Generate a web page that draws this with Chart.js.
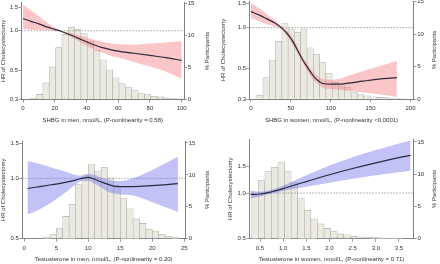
<!DOCTYPE html>
<html>
<head>
<meta charset="utf-8">
<script src="https://cdn.jsdelivr.net/npm/chart.js@4.4.1/dist/chart.umd.min.js"></script>
<style>
  body { margin: 0; background: #fff; width: 440px; height: 264px; overflow: hidden; position: relative; }
  canvas { position: absolute; }
</style>
</head>
<body>
<canvas id="c1" width="220" height="132" style="left:0;top:0"></canvas>
<canvas id="c2" width="220" height="132" style="left:220px;top:0"></canvas>
<canvas id="c3" width="220" height="132" style="left:0;top:132px"></canvas>
<canvas id="c4" width="220" height="132" style="left:220px;top:132px"></canvas>
<script>
// ---- data ----

// SHBG in men
var menShbgBins = [6.5,10.5,14.5,18.5,22.5,26.5,30.5,34.5,38.5,42.5,46.5,50.5,54.5,58.5,62.5,66.5,70.5,74.5,78.5,82.5,86.5,90.5,94.5,98.5];
var menShbgPct  = [0.15,0.8,2.6,5.1,8.1,10.2,11.3,11.0,10.3,9.1,7.7,6.2,4.6,3.4,2.5,1.85,1.4,1.0,0.75,0.5,0.4,0.25,0.15,0.1];
var menShbgX    = [0,5,10,15,20,23,30,35,40,45,50,55,60,70,80,90,100];
var menShbgHr   = [1.24,1.18,1.13,1.07,1.025,1.0,0.93,0.875,0.825,0.78,0.745,0.72,0.70,0.675,0.65,0.625,0.595];
var menShbgHi   = [1.58,1.43,1.29,1.16,1.06,1.01,0.965,0.925,0.89,0.855,0.825,0.805,0.79,0.785,0.80,0.815,0.835];
var menShbgLo   = [1.03,1.02,1.015,1.01,1.0,0.99,0.90,0.83,0.77,0.72,0.68,0.65,0.625,0.58,0.535,0.49,0.43];

// SHBG in women
var womenShbgBins = [11,18.9,26.8,34.7,42.6,50.5,58.4,66.3,74.2,82.1,90,97.9,105.8,113.7,121.6,129.5,137.4,145.3,153.2,161.1,169,176.9,184.8];
var womenShbgPct  = [0.6,3.3,6.0,8.9,11.7,10.8,10.3,10.8,7.9,6.9,5.6,3.9,2.6,2.0,1.8,1.0,0.7,0.5,0.35,0.25,0.2,0.15,0.1];
var womenShbgX    = [0,10,20,30,38,45,50,55,60,65,70,75,80,90,100,110,120,140,160,183];
var womenShbgHr   = [1.31,1.24,1.16,1.08,1.0,0.91,0.835,0.745,0.655,0.58,0.52,0.47,0.43,0.39,0.385,0.385,0.39,0.405,0.42,0.43];
var womenShbgHi   = [1.51,1.39,1.25,1.13,1.03,0.95,0.88,0.79,0.69,0.61,0.55,0.50,0.46,0.42,0.415,0.42,0.44,0.48,0.52,0.57];
var womenShbgLo   = [1.17,1.12,1.06,1.02,0.97,0.87,0.79,0.70,0.62,0.55,0.49,0.44,0.405,0.365,0.355,0.35,0.345,0.335,0.325,0.31];

// Testosterone in men
var menTBins = [2.5,3.5,4.5,5.5,6.5,7.5,8.5,9.5,10.5,11.5,12.5,13.5,14.5,15.5,16.5,17.5,18.5,19.5,20.5,21.5,22.5,23.5];
var menTPct  = [0.1,0.25,0.7,1.6,3.5,5.4,8.5,10.0,11.7,10.6,11.2,9.5,8.0,6.3,4.7,3.1,2.4,1.5,1.2,0.7,0.4,0.25];
var menTX    = [0.5,2,4,6,8,9,10,11,12,13,14,15,17,20,24];
var menTHr   = [0.89,0.905,0.926,0.95,0.98,1.0,1.01,0.99,0.96,0.935,0.915,0.91,0.91,0.92,0.94];
var menTHi   = [1.22,1.19,1.14,1.09,1.04,1.03,1.05,1.04,1.01,0.99,0.97,0.97,1.0,1.10,1.28];
var menTLo   = [0.66,0.69,0.75,0.83,0.93,0.97,0.97,0.94,0.90,0.86,0.84,0.83,0.82,0.76,0.68];

// Testosterone in women
var womenTBins = [0.391,0.533,0.675,0.817,0.959,1.101,1.243,1.385,1.527,1.669,1.811,1.953,2.095,2.237,2.379,2.521,2.663,2.805,2.947,3.089,3.231,3.373,3.515];
var womenTPct  = [6.7,9.0,10.4,11.1,11.9,10.4,8.7,6.3,4.4,3.1,2.3,1.6,1.1,0.75,0.6,0.4,0.3,0.25,0.2,0.15,0.1,0.1,0.05];
var womenTX    = [0.3,0.5,0.75,1.0,1.25,1.5,2.0,2.5,3.0,3.5,3.75];
var womenTHr   = [0.98,0.985,1.02,1.07,1.13,1.19,1.32,1.45,1.58,1.71,1.77];
var womenTHi   = [1.04,1.02,1.05,1.12,1.21,1.31,1.52,1.72,1.92,2.12,2.22];
var womenTLo   = [0.92,0.95,0.99,1.03,1.065,1.10,1.17,1.24,1.31,1.37,1.40];

// tick labels
var menShbgTicks   = [0,20,40,60,80,100];
var womenShbgTicks = [0,50,100,150,200];
var menTTicks      = [0,5,10,15,20,25];
var womenTTicks    = [0.5,1.0,1.5,2.0,2.5,3.0,3.5];
var hrTicksWide    = [0.3,0.5,1.0,1.5];
var hrTicksNarrow  = [0.5,1.0,1.5];
var pctTicks       = [0,5,10,15];

// ---- styling ----
var DARK = '#333333', AXIS = '#808080', CURVE = '#2a2a3c';
var PINK = 'rgba(246,120,125,0.42)', BLUE = 'rgba(110,110,235,0.42)';
var BAR_FILL = '#ebeae2', BAR_EDGE = '#aeada5';
var FONT = { family: '"Liberation Sans", Arial, sans-serif', size: 6 };

function pts(xs, ys) {
  return xs.map(function (x, i) { return { x: x, y: ys[i] }; });
}

// right-hand title, read bottom to top like the left one
var rightTitle = {
  id: 'rightTitle',
  afterDraw: function (chart, args, opts) {
    var a = chart.chartArea, ctx = chart.ctx;
    ctx.save();
    ctx.font = FONT.size + 'px ' + FONT.family;
    ctx.fillStyle = DARK;
    ctx.translate(opts.x, (a.top + a.bottom) / 2);
    ctx.rotate(-Math.PI / 2);
    ctx.textAlign = 'center';
    ctx.textBaseline = 'middle';
    ctx.fillText(opts.text, 0, 0);
    ctx.restore();
  }
};

function panel(p) {
  var W = 220, H = 132;
  var axisGrid = { drawOnChartArea: false, drawTicks: true, tickLength: 3, color: AXIS, lineWidth: 0.8, offset: false };
  var axisBorder = { display: true, color: AXIS, width: 1 };
  new Chart(document.getElementById(p.id), {
    type: 'bar',
    data: {
      datasets: [
        { type: 'line', data: pts(p.x, p.hr), yAxisID: 'y', borderColor: CURVE, borderWidth: 1.2,
          pointRadius: 0, cubicInterpolationMode: 'monotone', fill: false, order: 0 },
        { type: 'line', data: pts(p.x, p.hi), yAxisID: 'y', borderWidth: 0, pointRadius: 0,
          cubicInterpolationMode: 'monotone', fill: '+1', backgroundColor: p.band, order: 1 },
        { type: 'line', data: pts(p.x, p.lo), yAxisID: 'y', borderWidth: 0, pointRadius: 0,
          cubicInterpolationMode: 'monotone', fill: false, order: 1 },
        { type: 'line', data: [{ x: p.xMin, y: 1 }, { x: p.xMax, y: 1 }], yAxisID: 'y',
          borderColor: '#8a8a8a', borderWidth: 0.8, borderDash: [1.5, 1.5], pointRadius: 0, fill: false, order: 2 },
        { type: 'bar', data: pts(p.bins, p.pct), yAxisID: 'y2', backgroundColor: BAR_FILL,
          borderColor: BAR_EDGE, borderWidth: 0.6, barPercentage: 1, categoryPercentage: 1, order: 3 }
      ]
    },
    options: {
      responsive: false,
      animation: false,
      events: [],
      layout: { padding: { top: p.area.top, left: 0, right: 0, bottom: 0 } },
      plugins: {
        legend: { display: false },
        tooltip: { enabled: false },
        rightTitle: { x: p.rightX, text: '% Participants' }
      },
      scales: {
        x: {
          type: 'linear', min: p.xMin, max: p.xMax, offset: false,
          afterBuildTicks: function (s) { s.ticks = p.xTicks.map(function (v) { return { value: v }; }); },
          afterFit: function (s) { s.height = H - p.area.bottom; s.paddingLeft = 0; s.paddingRight = 0; },
          grid: axisGrid, border: axisBorder,
          ticks: { font: FONT, color: DARK, padding: p.xPad, maxRotation: 0, autoSkip: false,
                   callback: function (v) { return p.fmtX(v); } },
          title: { display: true, text: p.xTitle, font: FONT, color: DARK, padding: { top: 0, bottom: p.xTitlePad } }
        },
        y: {
          type: 'logarithmic', position: 'left', min: p.yMin, max: p.yMax,
          afterBuildTicks: function (s) { s.ticks = p.yTicks.map(function (v) { return { value: v }; }); },
          afterFit: function (s) { s.width = p.area.left; s.paddingTop = 0; s.paddingBottom = 0; },
          grid: axisGrid, border: axisBorder,
          ticks: { font: FONT, color: DARK, padding: 0.5, autoSkip: false,
                   callback: function (v) { return Number(v).toFixed(1); } },
          title: { display: true, text: 'HR of Cholecystectomy', font: FONT, color: DARK, padding: { top: p.yTitlePad, bottom: 0 } }
        },
        y2: {
          type: 'linear', position: 'right', min: 0, max: p.pMax,
          afterBuildTicks: function (s) { s.ticks = pctTicks.map(function (v) { return { value: v }; }); },
          afterFit: function (s) { s.width = W - p.area.right; s.paddingTop = 0; s.paddingBottom = 0; },
          grid: axisGrid, border: axisBorder,
          ticks: { font: FONT, color: DARK, padding: 0.7, autoSkip: false,
                   callback: function (v) { return String(v); } }
        }
      }
    },
    plugins: [rightTitle]
  });
}

panel({
  id: 'c1', area: { left: 21.5, right: 184, top: 2.5, bottom: 99.5 },
  xMin: -0.95, xMax: 101.45, yMin: 0.3, yMax: 1.642, pMax: 15.16,
  xTicks: menShbgTicks, yTicks: hrTicksWide, fmtX: function (v) { return String(v); },
  xPad: 2.2, xTitlePad: 8.4, yTitlePad: 0, rightX: 207, band: PINK,
  xTitle: 'SHBG in men, nmol/L, (P-nonlinearity = 0.58)',
  bins: menShbgBins, pct: menShbgPct, x: menShbgX, hr: menShbgHr, hi: menShbgHi, lo: menShbgLo
});

panel({
  id: 'c2', area: { left: 29.5, right: 193.5, top: 1, bottom: 99 },
  xMin: -1.88, xMax: 203.8, yMin: 0.3, yMax: 1.568, pMax: 15.1,
  xTicks: womenShbgTicks, yTicks: hrTicksWide, fmtX: function (v) { return String(v); },
  xPad: 2.7, xTitlePad: 8.4, yTitlePad: 0, rightX: 214, band: PINK,
  xTitle: 'SHBG in women, nmol/L, (P-nonlinearity <0.0001)',
  bins: womenShbgBins, pct: womenShbgPct, x: womenShbgX, hr: womenShbgHr, hi: womenShbgHi, lo: womenShbgLo
});

panel({
  id: 'c3', area: { left: 22.3, right: 185, top: 9, bottom: 106.7 },
  xMin: -0.31, xMax: 25.1, yMin: 0.5, yMax: 1.535, pMax: 15.31,
  xTicks: menTTicks, yTicks: hrTicksNarrow, fmtX: function (v) { return String(v); },
  xPad: 3.4, xTitlePad: 1.1, yTitlePad: 0, rightX: 207, band: BLUE,
  xTitle: 'Testosterone in men, nmol/L, (P-nonlinearity = 0.20)',
  bins: menTBins, pct: menTPct, x: menTX, hr: menTHr, hi: menTHi, lo: menTLo
});

panel({
  id: 'c4', area: { left: 29.3, right: 193.8, top: 7, bottom: 106.7 },
  xMin: 0.269, xMax: 3.82, yMin: 0.5, yMax: 2.27, pMax: 15.46,
  xTicks: womenTTicks, yTicks: hrTicksNarrow, fmtX: function (v) { return Number(v).toFixed(1); },
  xPad: 3.4, xTitlePad: 1.4, yTitlePad: 7, rightX: 214, band: BLUE,
  xTitle: 'Testosterone in women, nmol/L, (P-nonlinearity = 0.71)',
  bins: womenTBins, pct: womenTPct, x: womenTX, hr: womenTHr, hi: womenTHi, lo: womenTLo
});
</script>
</body>
</html>
